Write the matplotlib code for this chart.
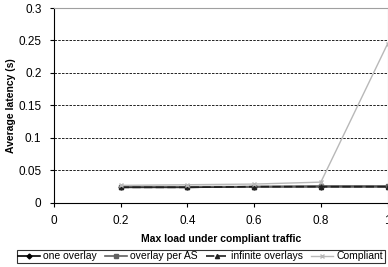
import matplotlib
matplotlib.use("Agg")
import matplotlib.pyplot as plt

plt.rcParams['font.family'] = ['Liberation Sans', 'DejaVu Sans']

# Data
load = [0.2, 0.4, 0.6, 0.8, 1.0]
one_overlay = [0.024, 0.024, 0.025, 0.025, 0.025]
overlay_per_as = [0.025, 0.025, 0.025, 0.026, 0.026]
infinite_overlays = [0.024, 0.024, 0.025, 0.025, 0.025]
compliant = [0.027, 0.028, 0.029, 0.032, 0.245]

xticks = [0, 0.2, 0.4, 0.6, 0.8, 1]
xtick_labels = ["0", "0.2", "0.4", "0.6", "0.8", "1"]
yticks = [0, 0.05, 0.1, 0.15, 0.2, 0.25, 0.3]
ytick_labels = ["0", "0.05", "0.1", "0.15", "0.2", "0.25", "0.3"]

fig = plt.figure(figsize=(3.88, 2.67), dpi=100)
ax = fig.add_axes([0.139, 0.24, 0.86, 0.73])

ax.plot(load, one_overlay, color="black", marker="D", markersize=2.5, lw=1.2,
        label="one overlay")
ax.plot(load, overlay_per_as, color="#606060", marker="s", markersize=2.5, lw=1.2,
        label="overlay per AS")
ax.plot(load, infinite_overlays, color="#202020", marker="^", markersize=3, lw=1.2,
        ls=(0, (5, 2)), label="infinite overlays")
ax.plot(load, compliant, color="#b8b8b8", marker="x", markersize=3, lw=1.0,
        label="Compliant")

ax.set_xlim(0, 1)
ax.set_ylim(0, 0.3)
ax.set_xticks(xticks)
ax.set_xticklabels(xtick_labels)
ax.set_yticks(yticks)
ax.set_yticklabels(ytick_labels)
ax.tick_params(labelsize=8.5, length=3, width=0.8, direction="out", pad=6)
ax.yaxis.grid(True, color="black", ls=(0, (3, 1.5)), lw=0.6)
ax.set_axisbelow(True)

for s in ["top", "right"]:
    ax.spines[s].set_color("#a0a0a0")
for s in ["left", "bottom"]:
    ax.spines[s].set_color("black")

ax.set_xlabel("Max load under compliant traffic", fontsize=7.5, fontweight="bold",
              labelpad=5)
ax.set_ylabel("Average latency (s)", fontsize=7.5, fontweight="bold", labelpad=2)

leg = fig.legend(loc="center", bbox_to_anchor=(0.517, 0.04), ncol=4, fontsize=7.5,
                 frameon=True, fancybox=False, edgecolor="black", handlelength=2.1,
                 handletextpad=0.3, columnspacing=0.8, borderpad=0.15,
                 borderaxespad=0)
leg.get_frame().set_linewidth(0.8)

fig.savefig("out.png", dpi=100)
